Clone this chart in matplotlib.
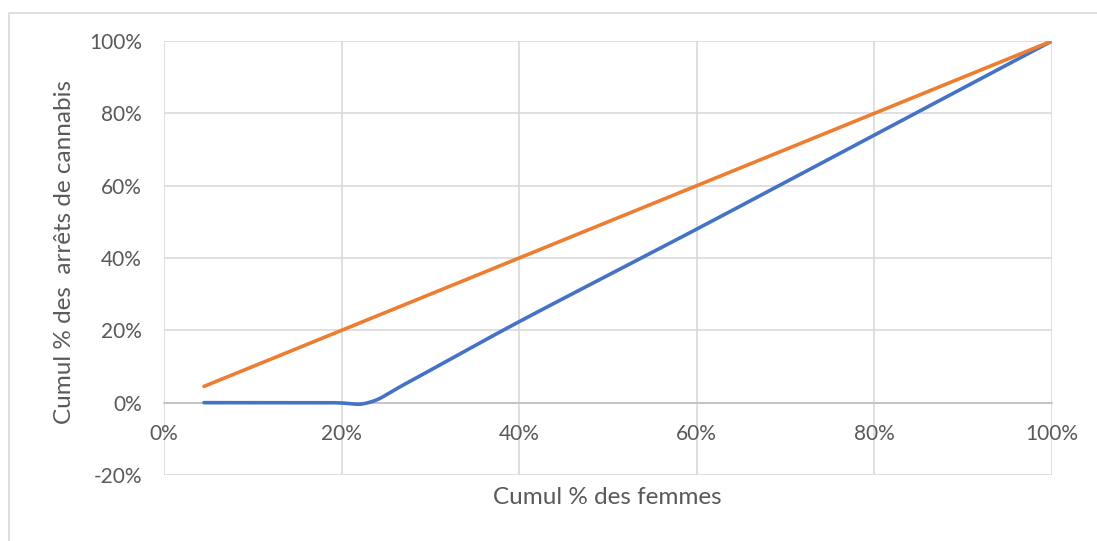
import matplotlib.pyplot as plt
import numpy as np
from matplotlib.patches import Rectangle

# cumulative shares (%)
cumul_femmes = [4.5, 18.5, 23, 27.7, 40, 60, 80, 100]
cumul_arrets = [0, 0, 0, 5.9, 22.4, 48, 74, 100]
egalite = [4.5, 18.5, 23, 27.7, 40, 60, 80, 100]

xticks = [0, 20, 40, 60, 80, 100]
yticks = [-20, 0, 20, 40, 60, 80, 100]

blue = "#4472C4"
orange = "#ED7D31"
grey = "#595959"

plt.rcParams['font.family'] = ['Lato', 'DejaVu Sans']


def smooth(xs, ys, n=30):
	# excel like smoothed line : cubic bezier, tangents from neighbours / 6
	p = np.column_stack([xs, ys]).astype(float)
	out = [p[0]]
	t = np.linspace(0, 1, n)[1:, None]
	for i in range(len(p) - 1):
		a = p[i - 1] if i > 0 else p[i]
		d = p[i + 2] if i + 2 < len(p) else p[i + 1]
		c1 = p[i] + (p[i + 1] - a) / 6
		c2 = p[i + 1] - (d - p[i]) / 6
		seg = (1 - t) ** 3 * p[i] + 3 * (1 - t) ** 2 * t * c1 + 3 * (1 - t) * t ** 2 * c2 + t ** 3 * p[i + 1]
		out.extend(seg)
	out = np.array(out)
	return out[:, 0], out[:, 1]


fig = plt.figure(figsize=(10.97, 5.41), dpi=100)
ax = fig.add_axes([164 / 1097, 1 - 475 / 541, (1052 - 164) / 1097, (475 - 41) / 541])

# chart frame
fig.patches.append(Rectangle((9 / 1097, -0.1), 1.2, 1 - 13 / 541 + 0.1, transform=fig.transFigure,
	fill=False, edgecolor="#d9d9d9", linewidth=1.2))

bx, by = smooth(cumul_femmes, cumul_arrets)
ox, oy = smooth(cumul_femmes, egalite)
ax.plot(bx, by, color=blue, linewidth=2.6, solid_capstyle="round", zorder=3)
ax.plot(ox, oy, color=orange, linewidth=2.6, solid_capstyle="round", zorder=3)

ax.set_xlim(0, 100)
ax.set_ylim(-20, 100)
ax.set_xticks(xticks)
ax.set_yticks(yticks)
ax.set_xticklabels([f"{v}%" for v in xticks])
ax.set_yticklabels([f"{v}%" for v in yticks])
ax.grid(True, color="#d9d9d9", linewidth=1.2)
ax.set_axisbelow(True)
for s in ["top", "right", "left"]:
	ax.spines[s].set_visible(False)
ax.spines["bottom"].set_position(("data", 0))
ax.spines["bottom"].set_color("#bfbfbf")
ax.spines["bottom"].set_linewidth(1.2)
ax.tick_params(axis="both", length=0, labelsize=15, labelcolor=grey)
ax.tick_params(axis="x", pad=15)
ax.tick_params(axis="y", pad=16)

fig.text(607 / 1097, 1 - 497 / 541, "Cumul % des femmes", ha="center", va="center", fontsize=17.5, color=grey)
fig.text(65 / 1097, 1 - 252 / 541, "Cumul % des  arrêts de cannabis", ha="center", va="center",
	rotation=90, fontsize=17.5, color=grey)

plt.savefig("out.png", dpi=100)
